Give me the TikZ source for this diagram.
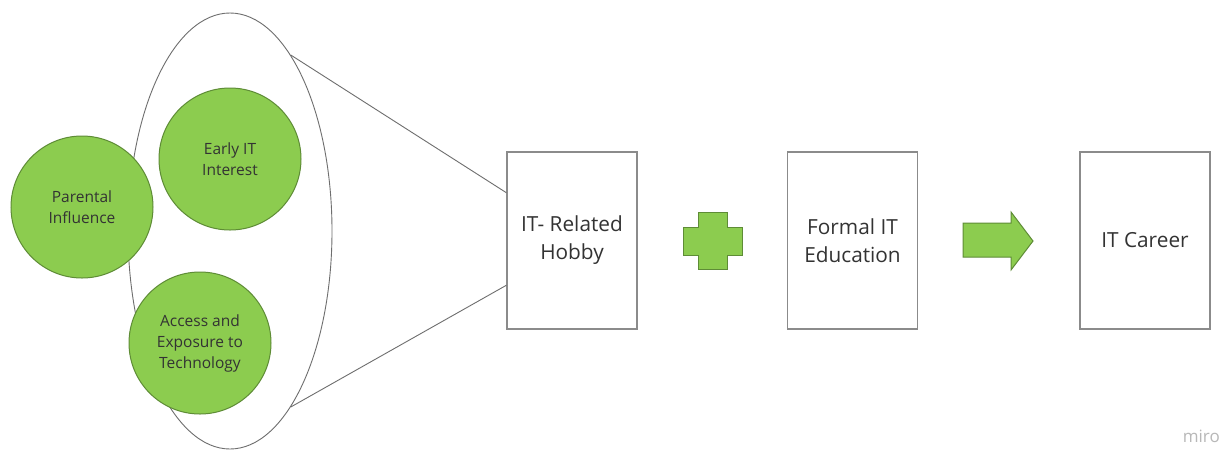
\documentclass[tikz,border=0pt]{standalone}
\usepackage{fontspec}
\setmainfont{Open Sans}
\usetikzlibrary{shapes.geometric,calc}
\definecolor{mgreen}{HTML}{8CCC4F}
\definecolor{mgreenline}{HTML}{5E8C36}
\definecolor{mgray}{HTML}{6E6E6E}
\definecolor{mtext}{HTML}{333333}
\begin{document}
\begin{tikzpicture}[x=1pt,y=-1pt,
  bubble/.style={circle,draw=mgreenline,fill=mgreen,line width=1pt,minimum size=142pt,inner sep=0pt,
    align=center,text=mtext,font=\fontsize{15.5}{21}\selectfont},
  stagebox/.style={rectangle,draw=mgray!80,line width=1.2pt,minimum width=130pt,minimum height=177pt,inner sep=0pt,
    align=center,text=mtext,font=\fontsize{20.8}{28}\selectfont},
  greenshape/.style={draw=mgreenline,fill=mgreen,line width=1pt,line join=miter},
  thinline/.style={draw=mgray,line width=0.9pt}]
\useasboundingbox (0,0) rectangle (1226,451);
\fill[white] (0,0) rectangle (1226,451);
% ellipse
\node[ellipse,thinline,minimum width=204pt,minimum height=436pt,inner sep=0pt] (ell) at (230,231) {};
% stage boxes
\node[stagebox] (hobby) at (572,240.5) {IT- Related\\Hobby};
\node[stagebox] (formal) at (852.5,240.5) {Formal IT\\Education};
\node[stagebox] (career) at (1145,240.5) {IT Career};
% funnel lines
\coordinate (h1) at ($(hobby.north west)!0.232!(hobby.south west)$);
\coordinate (h2) at ($(hobby.north west)!0.751!(hobby.south west)$);
\draw[thinline] (ell.71) -- (h1);
\draw[thinline] (ell.-71) -- (h2);
% bubbles
\node[bubble] (parental) at (82,207) {Parental\\Influence};
\node[bubble] (early) at (230,159) {Early IT\\Interest};
\node[bubble] (access) at (200,343) {Access and\\Exposure to\\Technology};
% plus sign
\draw[greenshape] (698,212) -- (727,212) -- (727,227) -- (742,227) -- (742,255) -- (727,255)
  -- (727,269) -- (698,269) -- (698,255) -- (683,255) -- (683,227) -- (698,227) -- cycle;
% arrow
\draw[greenshape] (963,223) -- (1011,223) -- (1011,212) -- (1033,241) -- (1011,270)
  -- (1011,257) -- (963,257) -- cycle;
% watermark
\node[text=black!28,font=\fontsize{17}{19}\selectfont,anchor=base east,inner sep=0pt] (miro) at (1220,442) {miro};
\end{tikzpicture}
\end{document}
